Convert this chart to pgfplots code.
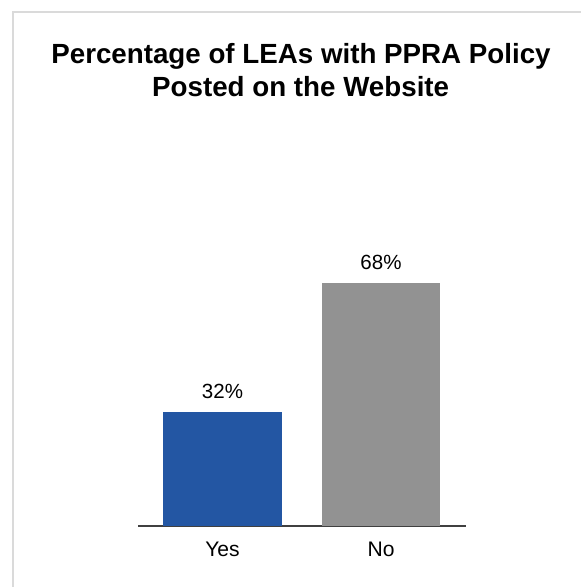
\documentclass[border=0pt]{standalone}
\usepackage{pgfplots}
\pgfplotsset{compat=1.18}
\usepackage{fontspec}
\setmainfont{Liberation Sans}
\definecolor{barblue}{HTML}{2356A3}
\definecolor{bargray}{HTML}{929292}
\definecolor{axisgray}{HTML}{404040}
\definecolor{framegray}{HTML}{DADADA}
\begin{document}
\begin{tikzpicture}
\path[use as bounding box] (0pt,0pt) rectangle (435.75pt,-440.25pt);
\draw[framegray, line width=1.5pt] (9.4pt,-440.25pt) -- (9.4pt,-9pt) -- (435.75pt,-9pt);
\node[anchor=base, font=\fontsize{20.8}{24}\selectfont\bfseries] at (225.75pt,-47.5pt) {Percentage of LEAs with PPRA Policy};
\node[anchor=base, font=\fontsize{20.8}{24}\selectfont\bfseries] at (225.5pt,-72.5pt) {Posted on the Website};
\begin{axis}[
  at={(103.5pt,-394.5pt)}, anchor=south west,
  scale only axis, width=246pt, height=268.1pt,
  xmin=-0.533, xmax=1.536, ymin=0, ymax=100,
  axis x line=bottom, axis y line=none,
  axis line style={-, axisgray, line width=1pt},
  xtick={0,1}, xticklabels={Yes,No},
  major tick length=0pt,
  xticklabel style={anchor=base, yshift=-23pt, font=\fontsize{15.8}{18}\selectfont},
  ytick=\empty,
  clip=false,
  /pgf/number format/assume math mode=true,
  nodes near coords={\pgfmathprintnumber{\pgfplotspointmeta}\%},
  nodes near coords style={anchor=base, inner sep=0pt, yshift=10pt, font=\fontsize{15.4}{18}\selectfont, text=black},
]
\addplot[ybar, bar width=89.25pt, fill=barblue, draw=none] coordinates {(0,32)};
\addplot[ybar, bar width=88.5pt, fill=bargray, draw=none] coordinates {(1,68)};
\end{axis}
\end{tikzpicture}
\end{document}
